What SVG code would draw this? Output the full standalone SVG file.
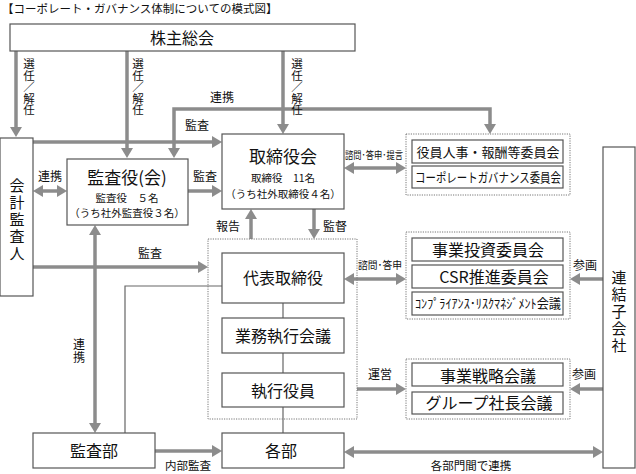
<svg xmlns="http://www.w3.org/2000/svg" width="636" height="474" viewBox="0 0 636 474">
<defs>
<marker id="ah" markerUnits="userSpaceOnUse" markerWidth="10" markerHeight="12" refX="3" refY="6" orient="auto-start-reverse"><path d="M0,0 L10,6 L0,12 z" fill="#8c8c8c"/></marker>
<style>
text{font-family:"Noto Sans CJK JP","Noto Sans CJK SC",sans-serif;fill:#111}
.box{fill:#fff;stroke:#555;stroke-width:1.2}
.grp{fill:none;stroke:#777;stroke-width:1;stroke-dasharray:1.2,1.2}
.c{stroke:#8c8c8c;stroke-width:3.5;fill:none}
.a1{marker-end:url(#ah)}
.a2{marker-start:url(#ah);marker-end:url(#ah)}
.thin{stroke:#666;stroke-width:1.2;fill:none}
.t16{font-size:16px;text-anchor:middle}
.t17{font-size:17px;text-anchor:middle}
.t10{font-size:10.5px;text-anchor:middle}
.t12{font-size:12px;text-anchor:middle}
.t13{font-size:13px;text-anchor:middle}
.vt{font-size:11.5px;writing-mode:vertical-rl;text-anchor:start}
.vb{font-size:15px;writing-mode:vertical-rl;text-anchor:start;letter-spacing:2px}
</style>
</defs>
<rect width="636" height="474" fill="#fff"/>
<text x="2" y="13" font-size="11.5">【コーポレート・ガバナンス体制についての模式図】</text>

<g id="connectors">
<path class="c a1" d="M16,51 V130"/>
<path class="c a1" d="M127,51 V151"/>
<path class="c a1" d="M283,51 V127"/>
<path class="c a2" d="M174,151 V109 H490 V127"/>
<path class="c a1" d="M33,142 H215"/>
<path class="c a2" d="M40,191 H60"/>
<path class="c a1" d="M188,191 H215"/>
<path class="c a2" d="M351,168 H399"/>
<path class="c a1" d="M251,239 V216"/>
<path class="c a1" d="M314,209 V232"/>
<path class="c a1" d="M33,267 H201"/>
<path class="c a2" d="M351,279 H399"/>
<path class="c a1" d="M603,279 H577"/>
<path class="c a1" d="M357,389 H399"/>
<path class="c a1" d="M603,389 H577"/>
<path class="c a2" d="M351,452 H596"/>
<path class="c a1" d="M155,451 H215"/>
<path class="c a2" d="M95,232 V426"/>
<path class="thin" d="M125,433 V286 H222"/>
<path class="thin" d="M283,303 V318 M283,353 V373 M283,407 V433"/>
</g>

<g id="labels">
<text class="vt" x="29" y="58">選任／解任</text>
<text class="vt" x="138" y="58">選任／解任</text>
<text class="vt" x="297" y="58">選任／解任</text>
<text class="t12" x="222" y="102">連携</text>
<text class="t12" x="197" y="130">監査</text>
<text class="t12" x="50" y="181">連携</text>
<text class="t12" x="205" y="181">監査</text>
<text class="t12" x="150" y="258">監査</text>
<text x="374" y="159" font-size="10" text-anchor="middle" textLength="58" lengthAdjust="spacingAndGlyphs">諮問･答申･提言</text>
<text class="t12" x="228" y="231">報告</text>
<text class="t12" x="335" y="231">監督</text>
<text x="380" y="269" font-size="10.5" text-anchor="middle" textLength="44" lengthAdjust="spacingAndGlyphs">諮問･答申</text>
<text class="t12" x="585" y="270">参画</text>
<text class="t12" x="380" y="379">運営</text>
<text class="t12" x="584" y="379">参画</text>
<text x="79" y="338" font-size="12" style="writing-mode:vertical-rl" letter-spacing="1">連携</text>
<text x="188" y="470" font-size="11.5" text-anchor="middle">内部監査</text>
<text x="471" y="470" font-size="11.5" text-anchor="middle">各部門間で連携</text>
</g>

<g id="shareholders"><rect class="box" x="10" y="24" width="345" height="27"/><text class="t16" x="182" y="44">株主総会</text></g>

<g id="auditor"><rect class="box" x="0" y="138" width="33" height="158"/>
<text class="vb" x="17" y="178">会計監査人</text></g>

<g id="kansayaku"><rect class="box" x="67" y="159" width="121" height="66"/>
<text class="t17" x="127" y="184">監査役(会)</text>
<text class="t10" x="127" y="202">監査役　５名</text>
<text class="t10" x="127" y="217">（うち社外監査役３名）</text></g>

<g id="board"><rect class="box" x="222" y="134" width="122" height="75"/>
<text class="t17" x="283" y="163">取締役会</text>
<text class="t10" x="283" y="182">取締役　11名</text>
<text class="t10" x="283" y="198">（うち社外取締役４名）</text></g>

<g id="committees1"><rect class="grp" x="406" y="134" width="164" height="61"/>
<rect class="box" x="412" y="140" width="151" height="23"/><text class="t13" x="488" y="157">役員人事・報酬等委員会</text>
<rect class="box" x="412" y="166" width="151" height="22"/><text x="488" y="182" font-size="13" text-anchor="middle" textLength="146" lengthAdjust="spacingAndGlyphs">コーポレートガバナンス委員会</text></g>

<g id="exec-group"><rect class="grp" x="208" y="239" width="149" height="180"/></g>
<g id="ceo"><rect class="box" x="222" y="253" width="122" height="50"/><text class="t16" x="283" y="284">代表取締役</text></g>
<g id="gyomu"><rect class="box" x="222" y="318" width="122" height="35"/><text class="t16" x="283" y="342">業務執行会議</text></g>
<g id="shikko"><rect class="box" x="222" y="373" width="122" height="34"/><text class="t16" x="283" y="397">執行役員</text></g>
<g id="kakubu"><rect class="box" x="222" y="433" width="122" height="35"/><text class="t16" x="281" y="457">各部</text></g>
<g id="kansabu"><rect class="box" x="33" y="433" width="122" height="35"/><text class="t16" x="94" y="457">監査部</text></g>

<g id="committees2"><rect class="grp" x="406" y="232" width="164" height="87"/>
<rect class="box" x="412" y="238" width="151" height="23"/><text class="t16" x="488" y="256">事業投資委員会</text>
<rect class="box" x="412" y="265" width="151" height="23"/><text class="t16" x="494" y="283">CSR推進委員会</text>
<rect class="box" x="412" y="292" width="151" height="23"/><text x="488" y="308" font-size="13" text-anchor="middle" textLength="146" lengthAdjust="spacingAndGlyphs">ｺﾝﾌﾟﾗｲｱﾝｽ･ﾘｽｸﾏﾈｼﾞﾒﾝﾄ会議</text></g>

<g id="committees3"><rect class="grp" x="406" y="359" width="164" height="60"/>
<rect class="box" x="412" y="363" width="151" height="23"/><text class="t16" x="488" y="382">事業戦略会議</text>
<rect class="box" x="412" y="392" width="151" height="22"/><text class="t16" x="489" y="409">グループ社長会議</text></g>

<g id="subsidiaries"><rect class="box" x="603" y="147" width="32" height="321"/>
<text class="vb" x="619" y="270">連結子会社</text></g>
</svg>
